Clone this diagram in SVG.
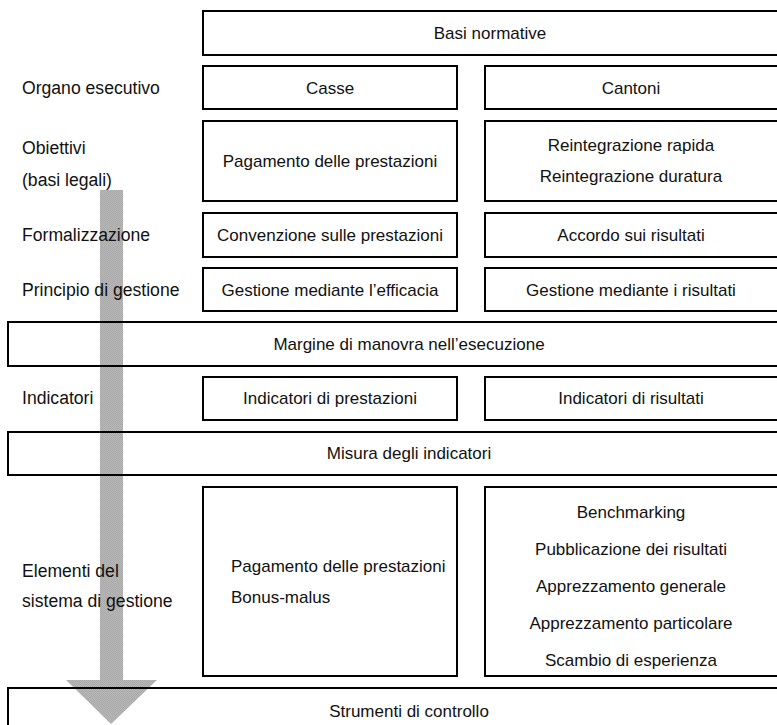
<svg xmlns="http://www.w3.org/2000/svg" width="777" height="725" viewBox="0 0 777 725">
  <style>
    .box { fill: none; stroke: #000; stroke-width: 2; }
    .t { font-family: "Liberation Sans", Arial, sans-serif; font-size: 17px; fill: #111; }
    .lbl { font-size: 17.6px; }
    .c { text-anchor: middle; }
  </style>
  <defs>
    <pattern id="dither" width="2" height="2" patternUnits="userSpaceOnUse">
      <rect width="2" height="2" fill="#b8b8b8"/>
      <rect width="1" height="1" fill="#a9a9a9"/>
      <rect x="1" y="1" width="1" height="1" fill="#a9a9a9"/>
    </pattern>
  </defs>
  <rect width="777" height="725" fill="#fff"/>

  <!-- downward flow arrow behind the grid -->
  <g id="connectors">
    <polygon points="100,190 123,190 123,680 157,680 111,724 66,680 100,680" fill="url(#dither)"/>
  </g>

  <!-- row labels -->
  <g id="labels" class="t lbl">
    <text x="22" y="94">Organo esecutivo</text>
    <text x="22" y="154">Obiettivi</text>
    <text x="22" y="186">(basi legali)</text>
    <text x="22" y="241">Formalizzazione</text>
    <text x="22" y="296">Principio di gestione</text>
    <text x="22" y="404">Indicatori</text>
    <text x="22" y="577">Elementi del</text>
    <text x="22" y="607">sistema di gestione</text>
  </g>

  <g id="basi">
    <rect class="box" x="203" y="11" width="576" height="44"/>
    <text class="t c" x="490" y="39">Basi normative</text>
  </g>

  <g id="casse">
    <rect class="box" x="203" y="66" width="254" height="43"/>
    <text class="t c" x="330" y="94">Casse</text>
  </g>
  <g id="cantoni">
    <rect class="box" x="485" y="66" width="294" height="43"/>
    <text class="t c" x="631" y="94">Cantoni</text>
  </g>

  <g id="obiettivi-casse">
    <rect class="box" x="203" y="121" width="254" height="80"/>
    <text class="t c" x="330" y="167">Pagamento delle prestazioni</text>
  </g>
  <g id="obiettivi-cantoni">
    <rect class="box" x="485" y="121" width="294" height="80"/>
    <text class="t c" x="631" y="151">Reintegrazione rapida</text>
    <text class="t c" x="631" y="182">Reintegrazione duratura</text>
  </g>

  <g id="convenzione">
    <rect class="box" x="203" y="213" width="254" height="44"/>
    <text class="t c" x="330" y="241">Convenzione sulle prestazioni</text>
  </g>
  <g id="accordo">
    <rect class="box" x="485" y="213" width="294" height="44"/>
    <text class="t c" x="631" y="241">Accordo sui risultati</text>
  </g>

  <g id="gestione-efficacia">
    <rect class="box" x="203" y="268" width="254" height="43"/>
    <text class="t c" x="330" y="296">Gestione mediante l’efficacia</text>
  </g>
  <g id="gestione-risultati">
    <rect class="box" x="485" y="268" width="294" height="43"/>
    <text class="t c" x="631" y="296">Gestione mediante i risultati</text>
  </g>

  <g id="margine">
    <rect class="box" x="8" y="322" width="803" height="44"/>
    <text class="t c" x="409" y="350">Margine di manovra nell’esecuzione</text>
  </g>

  <g id="indicatori-prestazioni">
    <rect class="box" x="203" y="377" width="254" height="43"/>
    <text class="t c" x="330" y="404">Indicatori di prestazioni</text>
  </g>
  <g id="indicatori-risultati">
    <rect class="box" x="485" y="377" width="294" height="43"/>
    <text class="t c" x="631" y="404">Indicatori di risultati</text>
  </g>

  <g id="misura">
    <rect class="box" x="8" y="432" width="803" height="43"/>
    <text class="t c" x="409" y="459">Misura degli indicatori</text>
  </g>

  <g id="elementi-casse">
    <rect class="box" x="203" y="487" width="254" height="189"/>
    <text class="t" x="231" y="572">Pagamento delle prestazioni</text>
    <text class="t" x="231" y="603">Bonus-malus</text>
  </g>
  <g id="elementi-cantoni">
    <rect class="box" x="485" y="487" width="294" height="189"/>
    <text class="t c" x="631" y="518">Benchmarking</text>
    <text class="t c" x="631" y="555">Pubblicazione dei risultati</text>
    <text class="t c" x="631" y="592">Apprezzamento generale</text>
    <text class="t c" x="631" y="629">Apprezzamento particolare</text>
    <text class="t c" x="631" y="666">Scambio di esperienza</text>
  </g>

  <g id="strumenti">
    <rect class="box" x="8" y="688" width="803" height="60"/>
    <text class="t c" x="409" y="717">Strumenti di controllo</text>
  </g>
</svg>
